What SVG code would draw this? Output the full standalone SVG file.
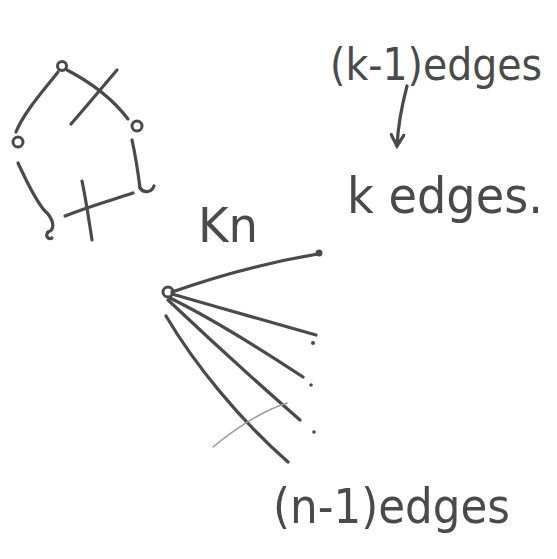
<svg xmlns="http://www.w3.org/2000/svg" width="557" height="559" viewBox="0 0 557 559">
<defs>
<style>
.s{fill:none;stroke:#4a4a4a;stroke-width:3.2;stroke-linecap:round;stroke-linejoin:round}
.f{fill:none;stroke:#9a9a9a;stroke-width:1.5;stroke-linecap:round}
.v{fill:none;stroke:#4a4a4a;stroke-width:3}
.t{font-family:"DejaVu Sans Condensed","DejaVu Sans","Liberation Sans",sans-serif;fill:#4a4a4a;font-weight:300}
</style>
<marker id="ah" viewBox="0 0 10 10" refX="8" refY="5" markerWidth="5" markerHeight="5" orient="auto-start-reverse">
<path d="M1,1 L8,5 L1,9" fill="none" stroke="#4a4a4a" stroke-width="2" stroke-linecap="round"/>
</marker>
</defs>
<rect width="557" height="559" fill="#ffffff"/>

<g id="connectors">
<!-- cycle graph edges -->
<path class="s" d="M58,72 C44,90 24,112 16,132"/>
<path class="s" d="M67,70 C90,82 112,98 128,119"/>
<path class="s" d="M117,70 C100,90 85,108 71,124"/>
<path class="s" d="M18,163 C26,180 34,198 44,210 C55,220 55,230 48,232"/>
<path class="s" d="M65,216 C90,206 112,200 133,193"/>
<path class="s" d="M82,181 C86,200 89,220 92,240"/>
<path class="s" d="M132,140 C136,158 138,172 140,188"/>
<!-- k-1 to k arrow -->
<path class="s" d="M407,86 C402,105 398,125 397,146" marker-end="url(#ah)"/>
<!-- Kn star edges -->
<path class="s" d="M172,292 C220,275 270,262 318,254"/>
<path class="s" d="M172,294 C220,308 270,322 316,335"/>
<path class="s" d="M170,298 C215,320 262,350 303,377"/>
<path class="s" d="M168,300 C205,335 260,385 300,420"/>
<path class="s" d="M166,316 C195,365 240,420 288,462"/>
<path class="f" d="M213,447 C240,425 265,410 287,403"/>
</g>

<g id="v_top"><circle class="v" cx="62" cy="66" r="4.5"/></g>
<g id="v_left"><circle class="v" cx="18" cy="142" r="5"/></g>
<g id="v_right"><circle class="v" cx="137" cy="126" r="5"/></g>
<g id="v_bottom_right"><path class="s" d="M140,188 C144,194 152,192 154,186"/></g>
<g id="v_bottom_left"><path class="s" d="M48,232 C45,236 48,240 52,238"/></g>

<g id="kn_hub"><circle class="v" cx="168" cy="292" r="5"/></g>
<g id="kn_v1"><circle cx="319" cy="253" r="3.5" fill="#4a4a4a"/></g>
<g id="dots">
<circle cx="313" cy="343" r="2" fill="#4a4a4a"/>
<circle cx="311" cy="385" r="1.8" fill="#4a4a4a"/>
<circle cx="314" cy="432" r="1.8" fill="#4a4a4a"/>
</g>

<g id="label_kn"><text class="t" x="198" y="242" font-size="48" textLength="60" lengthAdjust="spacingAndGlyphs">Kn</text></g>
<g id="label_k1"><text class="t" x="330" y="80" font-size="44" textLength="212" lengthAdjust="spacingAndGlyphs">(k-1)edges</text></g>
<g id="label_k"><text class="t" x="347" y="213" font-size="50" textLength="196" lengthAdjust="spacingAndGlyphs">k edges.</text></g>
<g id="label_n1"><text class="t" x="273" y="523" font-size="48" textLength="237" lengthAdjust="spacingAndGlyphs">(n-1)edges</text></g>
</svg>
